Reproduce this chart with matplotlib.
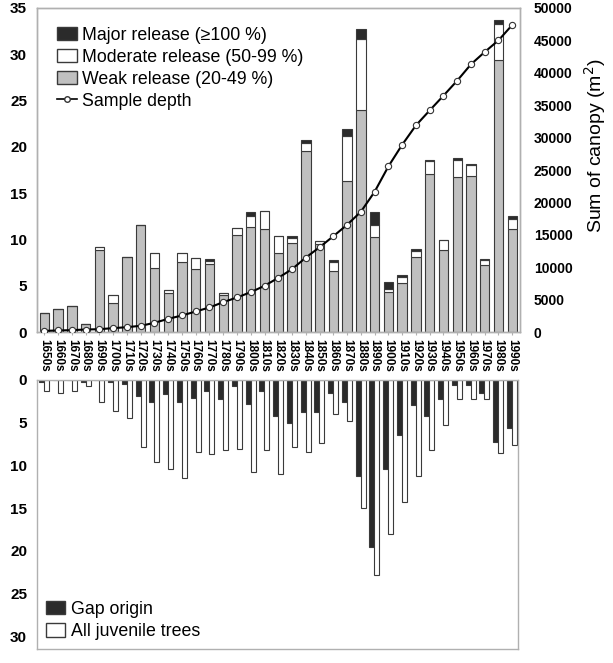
import matplotlib
matplotlib.use("Agg")
import matplotlib.pyplot as plt
import numpy as np
from matplotlib.patches import Patch
from matplotlib.lines import Line2D

plt.rcParams['font.family'] = ['Liberation Sans', 'DejaVu Sans']

decades = [f"{y}s" for y in range(1650, 2000, 10)]

weak = [2.1, 2.5, 2.8, 0.9, 8.9, 3.1, 8.1, 11.55, 6.9, 4.25, 7.6, 6.85, 7.4, 4.0, 10.5,
        11.35, 11.1, 8.55, 9.6, 19.6, 9.5, 6.6, 16.35, 24.0, 10.25, 4.35, 5.35, 8.1,
        17.1, 8.9, 16.75, 16.9, 7.25, 29.4, 11.15]
moderate = [0, 0, 0, 0, 0.3, 0.9, 0, 0, 1.6, 0.35, 0.9, 1.2, 0.3, 0.2, 0.75,
            1.15, 2.0, 1.8, 0.6, 0.8, 0.3, 1.0, 4.85, 7.7, 1.35, 0.35, 0.6, 0.7,
            1.35, 1.1, 1.85, 1.1, 0.55, 3.9, 1.1]
major = [0, 0, 0, 0, 0, 0, 0, 0, 0, 0, 0, 0, 0.15, 0, 0,
         0.45, 0, 0, 0.2, 0.3, 0, 0.2, 0.7, 1.0, 1.4, 0.7, 0.2, 0.2,
         0.15, 0, 0.2, 0.2, 0.15, 0.35, 0.3]
sample_depth = [200, 260, 310, 410, 460, 620, 770, 980, 1440, 2060, 2570, 3190, 3810,
                4630, 5350, 6170, 7150, 8380, 9720, 11500, 13100, 14800, 16560, 18570,
                21660, 25570, 28900, 31890, 34200, 36470, 38790, 41310, 43210, 45010, 47380]

gap_origin = [0.27, 0, 0, 0.27, 0, 0.27, 0.47, 1.83, 2.64, 1.63, 2.64, 2.06, 1.28, 2.25,
              0.66, 2.84, 1.28, 4.24, 5.01, 3.81, 3.81, 1.59, 2.6, 11.23, 19.59, 10.42,
              6.41, 2.99, 4.24, 2.2, 0.62, 0.62, 1.59, 7.23, 5.6]
all_juvenile = [1.28, 1.48, 1.28, 0.66, 2.6, 3.6, 4.47, 7.81, 9.6, 10.45, 11.47, 8.43,
                8.63, 8.24, 8.05, 10.8, 8.24, 11.04, 7.81, 8.43, 7.42, 4.0, 4.78, 15.04,
                22.81, 18.03, 14.26, 11.19, 8.24, 5.29, 2.2, 2.2, 2.2, 8.59, 7.62]

x = np.arange(len(decades))
weak = np.array(weak); moderate = np.array(moderate); major = np.array(major)

fig = plt.figure(figsize=(6.13, 6.63), dpi=100)
ax1 = fig.add_axes([0.060, 0.499, 0.788, 0.489])
ax3 = fig.add_axes([0.060, 0.021, 0.785, 0.406])

edge = '#3a3a3a'
frame = '#b0b0b0'
bw = 0.68
ax1.bar(x, weak, bw, color='#c0c0c0', edgecolor=edge, linewidth=0.8, zorder=2)
ax1.bar(x, moderate, bw, bottom=weak, color='white', edgecolor=edge, linewidth=0.8, zorder=2)
ax1.bar(x, major, bw, bottom=weak + moderate, color='#2b2b2b', edgecolor=edge, linewidth=0.8, zorder=2)
ax1.set_xlim(-0.55, len(x) - 0.45)
ax1.set_ylim(0, 35)
ax1.set_yticks(range(0, 36, 5))
ax1.set_xticks(x)
ax1.set_xticklabels(decades, rotation=270, fontsize=8.5, fontweight='bold')
for lab in ax1.get_yticklabels():
    lab.set_fontweight('bold')
ax1.tick_params(axis='y', labelsize=11, length=0, pad=7)
ax1.tick_params(axis='x', length=2, color=frame, pad=3)

ax2 = ax1.twinx()
ax2.plot(x, sample_depth, color='black', lw=1.5, marker='o', ms=4.5, mfc='white',
         mec='#333333', mew=0.8, zorder=5)
ax2.set_ylim(0, 50000)
ax2.set_yticks(range(0, 50001, 5000))
for lab in ax2.get_yticklabels():
    lab.set_fontweight('bold')
ax2.tick_params(axis='y', labelsize=10, length=0, pad=10)
ax2.set_ylabel('Sum of canopy (m$^2$)', fontsize=14)
ax2.yaxis.set_label_coords(1.128, 0.575)

for a in (ax1, ax2, ax3):
    for s in a.spines.values():
        s.set_color(frame)
        s.set_linewidth(1.0)

handles = [Patch(facecolor='#2b2b2b', edgecolor=edge, label='Major release (\u2265100 %)'),
           Patch(facecolor='white', edgecolor=edge, label='Moderate release (50-99 %)'),
           Patch(facecolor='#c0c0c0', edgecolor=edge, label='Weak release (20-49 %)'),
           Line2D([0], [0], color='black', lw=1.2, marker='o', ms=4, mfc='white',
                  mec='#333333', label='Sample depth')]
ax1.legend(handles=handles, loc='upper left', bbox_to_anchor=(0.02, 0.975), frameon=False,
           fontsize=12.8, handlelength=1.1, handleheight=0.8, handletextpad=0.3,
           labelspacing=0.28, borderaxespad=0.2)

w2 = 0.36
ax3.bar(x - w2 / 2, gap_origin, w2, color='#2b2b2b', edgecolor=edge, linewidth=0.8)
ax3.bar(x + w2 / 2, all_juvenile, w2, color='white', edgecolor=edge, linewidth=0.8)
ax3.set_xlim(-0.55, len(x) - 0.55)
ax3.set_ylim(31.5, 0)
ax3.set_yticks(range(0, 31, 5))
ax3.set_xticks([])
for lab in ax3.get_yticklabels():
    lab.set_fontweight('bold')
ax3.tick_params(axis='y', labelsize=11, length=0, pad=7)
h2 = [Patch(facecolor='#2b2b2b', edgecolor=edge, label='Gap origin'),
      Patch(facecolor='white', edgecolor=edge, label='All juvenile trees')]
ax3.legend(handles=h2, loc='lower left', bbox_to_anchor=(0.0, 0.0), frameon=False,
           fontsize=12.8, handlelength=1.1, handleheight=0.8, handletextpad=0.3,
           labelspacing=0.3, borderaxespad=0.1)

fig.savefig('out.png', dpi=100)
